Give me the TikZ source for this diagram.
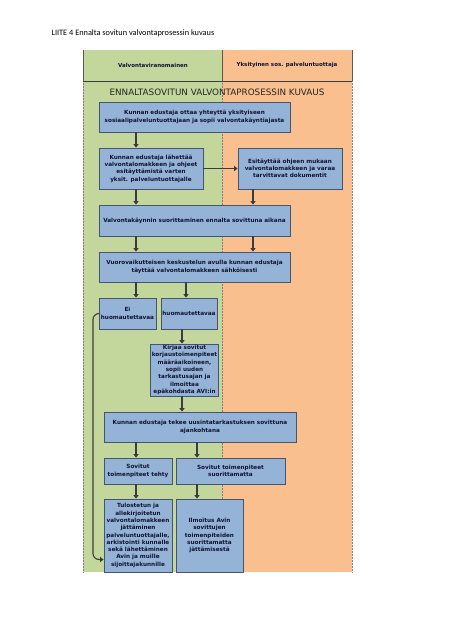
\documentclass[tikz,border=0pt]{standalone}
\usepackage{fontspec}
\setmainfont{Carlito}
\newfontfamily\boxfont{DejaVu Sans}
\usetikzlibrary{arrows.meta}
\definecolor{mygreen}{RGB}{195,214,155}
\definecolor{myorange}{RGB}{250,191,143}
\definecolor{myblue}{RGB}{149,179,215}
\definecolor{myborder}{RGB}{70,85,110}
\definecolor{mytext}{RGB}{15,20,50}
\definecolor{myline}{RGB}{60,60,60}
\tikzset{
    box/.style={draw=myborder, line width=0.8pt, fill=myblue, text=mytext, align=center, inner sep=1pt,
        font=\boxfont\bfseries\fontsize{5.7}{7.3}\selectfont},
    wide/.style={box, minimum width=191, minimum height=30, text width=187},
    flow/.style={draw=myline, line width=1.1pt, -{Triangle[length=3.5pt,width=5pt]}},
    lane/.style={font=\boxfont\bfseries\fontsize{5.5}{6.5}\selectfont, text=mytext},
    edge/.style={draw=gray!70!black, line width=0.5pt},
    dotedge/.style={draw=gray, line width=0.5pt, densely dotted}
}
\begin{document}
\begin{tikzpicture}[x=1pt, y=-1pt]
    \useasboundingbox[fill=white] (0,0) rectangle (453,640);
    \node[anchor=west, font=\fontsize{8.3}{10}\selectfont] (caption) at (48,33) {LIITE 4 Ennalta sovitun valvontaprosessin kuvaus};

    % lanes
    \fill[mygreen] (83,50) rectangle (222,572);
    \fill[myorange] (222,50) rectangle (352,572);
    \draw[edge] (83,50) -- (83,81) (222,50) -- (222,81) (352,50) -- (352,81);
    \draw[dotedge] (83,81) -- (83,572) (222,81) -- (222,572) (352,81) -- (352,572);
    \draw[myline, line width=0.8pt] (83,81) -- (352,81);
    \node[lane] (lane1) at (153,65) {Valvontaviranomainen};
    \node[lane] (lane2) at (287,65) {Yksityinen sos. palveluntuottaja};
    \node[font=\boxfont\fontsize{8.8}{10}\selectfont, text=black!85] (title) at (217,92) {ENNALTASOVITUN VALVONTAPROSESSIN KUVAUS};

    % columns for the arrows
    \coordinate (colA) at (136,0);
    \coordinate (colB) at (253,0);
    \coordinate (colC) at (186,0);
    \coordinate (colD) at (182,0);
    \coordinate (colF) at (197,0);
    \coordinate (bend) at (93,0);

    % boxes
    \node[wide] (contact) at (194.5,117) {Kunnan edustaja ottaa yhteyttä yksityiseen\\sosiaalipalveluntuottajaan ja sopii valvontakäyntiajasta};
    \node[box, minimum width=104, minimum height=41] (send) at (151,168.5) {Kunnan edustaja lähettää\\valvontalomakkeen ja ohjeet\\esitäyttämistä varten\\yksit. palveluntuottajalle};
    \node[box, minimum width=104, minimum height=41] (prefill) at (290,168.5) {Esitäyttää ohjeen mukaan\\valvontalomakkeen ja varaa\\tarvittavat dokumentit};
    \node[wide, minimum height=31] (visit) at (194.5,220.5) {Valvontakäynnin suorittaminen ennalta sovittuna aikana};
    \node[wide] (discuss) at (194.5,267) {Vuorovaikutteisen keskustelun avulla kunnan edustaja\\täyttää valvontalomakkeen sähköisesti};
    \node[box, minimum width=57, minimum height=31] (noremark) at (127.5,313.5) {Ei\\huomautettavaa};
    \node[box, minimum width=56, minimum height=31] (remark) at (189,313.5) {huomautettavaa};
    \node[box, minimum width=67, minimum height=52] (record) at (184.5,370) {Kirjaa sovitut\\korjaustoimenpiteet\\määräaikoineen,\\sopii uuden\\tarkastusajan ja\\ilmoittaa\\epäkohdasta AVI:in};
    \node[wide, minimum width=192, text width=188] (recheck) at (200,427) {Kunnan edustaja tekee uusintatarkastuksen sovittuna\\ajankohtana};
    \node[box, minimum width=68, minimum height=26] (done) at (138,471) {Sovitut\\toimenpiteet tehty};
    \node[box, minimum width=109, minimum height=26] (undone) at (230.5,471) {Sovitut toimenpiteet\\suorittamatta};
    \node[box, minimum width=68, minimum height=73] (archive) at (138,535.5) {Tulostetun ja\\allekirjoitetun\\valvontalomakkeen\\jättäminen\\palveluntuottajalle,\\arkistointi kunnalle\\sekä lähettäminen\\Avin ja muille\\sijoittajakunnille};
    \node[box, minimum width=67, minimum height=73] (notify) at (209.5,535.5) {Ilmoitus Avin\\sovittujen\\toimenpiteiden\\suorittamatta\\jättämisestä};

    % connectors
    \draw[flow] (contact.south -| colA) -- (send.north -| colA);
    \draw[flow] (send.east) -- (prefill.west);
    \draw[flow] (send.south -| colA) -- (visit.north -| colA);
    \draw[flow] (prefill.south -| colB) -- (visit.north -| colB);
    \draw[flow] (visit.south -| colA) -- (discuss.north -| colA);
    \draw[flow] (visit.south -| colB) -- (discuss.north -| colB);
    \draw[flow] (discuss.south -| colA) -- (noremark.north -| colA);
    \draw[flow] (discuss.south -| colC) -- (remark.north -| colC);
    \draw[flow] (remark.south -| colD) -- (record.north -| colD);
    \draw[flow] (record.south -| colD) -- (recheck.north -| colD);
    \draw[flow] (recheck.south -| colA) -- (done.north -| colA);
    \draw[flow] (recheck.south -| colF) -- (undone.north -| colF);
    \draw[flow] (done.south -| colA) -- (archive.north -| colA);
    \draw[flow] (undone.south -| colF) -- (notify.north -| colF);
    \draw[flow, rounded corners=6pt] (noremark.west) -- (noremark.west -| bend) -- ([yshift=-24]archive.west -| bend) -- ([yshift=-24]archive.west);
\end{tikzpicture}
\end{document}
